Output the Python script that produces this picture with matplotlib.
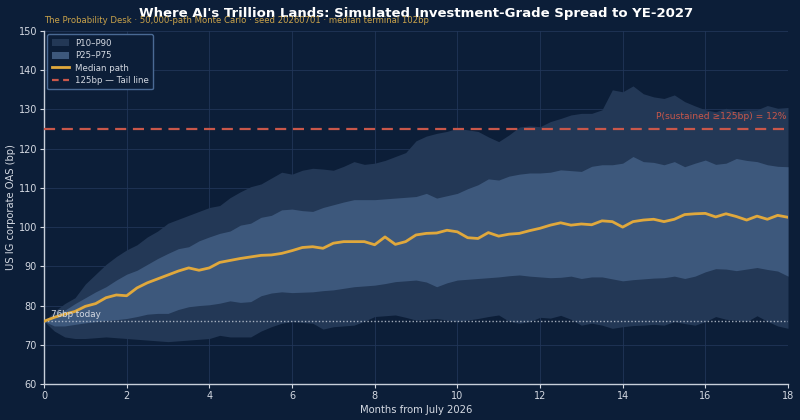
import matplotlib
matplotlib.use("Agg")
import matplotlib.pyplot as plt
import numpy as np
from matplotlib.patches import Patch
from matplotlib.lines import Line2D

plt.rcParams["font.family"] = ["DejaVu Sans"]

# ---------------- data ----------------
months = np.arange(0, 18.01, 0.25)

p90 = [76, 78.5, 80.5, 82, 85.5, 88, 90.5, 92.5, 94.2, 95.5, 97.5, 99, 101, 102, 103, 104, 105, 105.5, 107.5, 109,
       110.3, 111, 112.5, 114, 113.5,
       114.5, 115, 114.8, 114.5, 115.5, 116.7, 116, 116.3, 117, 118, 119, 122, 123.2, 123.9, 124.4, 125.2, 124.8,
       124.4, 123, 121.8, 123.5, 125.5, 125.8, 125.6,
       126.9, 127.7, 128.6, 129, 129, 129.9, 135, 134.5, 136, 134, 133.2, 132.8, 133.7, 132, 130.9, 129.9, 129.4,
       130.3, 129.4, 129.9, 129.9, 131, 130.3, 130.5]

p75 = [76, 77.5, 78.8, 80.5, 82, 83.5, 84.8, 86.5, 88, 89, 90.5, 92, 93.3, 94.5, 95, 96.5, 97.5, 98.4, 99, 100.5,
       101, 102.5, 103, 104.4, 104.6,
       104.2, 104, 105, 105.7, 106.4, 107, 107, 107, 107.2, 107.4, 107.6, 107.8, 108.6, 107.4, 108, 108.6, 109.8,
       110.8, 112.3, 112, 113, 113.5, 113.8, 113.8,
       114, 114.6, 114.4, 114.2, 115.5, 115.9, 115.9, 116.3, 118, 116.7, 116.5, 115.9, 116.7, 115.4, 116.3, 117.1,
       116, 116.3, 117.5, 117, 116.7, 115.9, 115.5, 115.4]

median = [76, 77, 77.8, 78.5, 79.8, 80.5, 82, 82.7, 82.5, 84.5, 85.8, 86.8, 87.8, 88.8, 89.6, 89, 89.6, 91, 91.5, 92,
          92.4, 92.8, 92.9, 93.3, 94,
          94.8, 95, 94.6, 95.9, 96.3, 96.3, 96.3, 95.5, 97.5, 95.6, 96.3, 98, 98.4, 98.5, 99.2, 98.8, 97.3, 97.1,
          98.6, 97.7, 98.2, 98.4, 99.1, 99.7,
          100.5, 101.1, 100.5, 100.8, 100.6, 101.6, 101.4, 100, 101.4, 101.8, 102, 101.4, 102, 103.2, 103.4, 103.5,
          102.6, 103.4, 102.7, 101.8, 102.8, 102, 103, 102.5]

p25 = [76, 74.8, 74.8, 75.2, 75.6, 75.9, 76.2, 76.4, 76.7, 77.2, 77.8, 78, 78, 79, 79.7, 80, 80.2, 80.6, 81.2, 80.8,
       81, 82.5, 83.2, 83.5, 83.3,
       83.4, 83.5, 83.8, 84, 84.4, 84.8, 85, 85.2, 85.6, 86.1, 86.3, 86.5, 86, 84.8, 85.8, 86.5, 86.7, 86.9, 87.1,
       87.3, 87.6, 87.8, 87.5, 87.3,
       87.1, 87.2, 87.5, 86.9, 87.3, 87.3, 86.8, 86.3, 86.6, 86.8, 87, 87.1, 87.5, 86.9, 87.5, 88.6, 89.4, 89.3,
       88.9, 89.3, 89.7, 89.2, 88.8, 87.5]

p10 = [76, 73.5, 72, 71.6, 71.6, 71.8, 72, 71.8, 71.6, 71.4, 71.2, 71, 70.8, 71, 71.2, 71.4, 71.6, 72.4, 72, 72,
       72, 73.5, 74.6, 75.5, 75.9,
       75.7, 75.5, 74, 74.6, 74.8, 75, 76, 77.2, 77.4, 77.6, 77, 76.3, 76.5, 76.7, 76.3, 75.9, 76.3, 76.7, 77.2,
       77.6, 76, 75.5, 75.9, 77,
       76.8, 77.5, 76.5, 75, 75.5, 75, 74.2, 74.6, 74.9, 75, 75.2, 75, 75.9, 75.4, 75, 75.9, 77.2, 76.5, 76.3,
       75.9, 77.4, 76, 74.8, 74.2]

today_bp = 76
tail_bp = 125
title = "Where AI's Trillion Lands: Simulated Investment-Grade Spread to YE-2027"
subtitle = ("The Probability Desk \u00b7 50,000-path Monte Carlo \u00b7 seed 20260701 \u00b7 "
            "median terminal 102bp")
tail_note = "P(sustained \u2265125bp) = 12%"

# ---------------- style ----------------
BG = "#0c1e38"
OUTER = "#233856"
INNER = "#3d587c"
GOLD = "#e0a83c"
RED = "#c9574a"
TXT = "#d4d9e2"

fig = plt.figure(figsize=(8, 4.2), dpi=100, facecolor=BG)
ax = fig.add_axes([0.055, 0.0857, 0.93, 0.8405])
ax.set_facecolor(BG)

ax.grid(True, color="#22375a", linewidth=0.7, alpha=0.8, zorder=0)
ax.set_axisbelow(True)

ax.fill_between(months, p10, p90, color=OUTER, linewidth=0, zorder=1)
ax.fill_between(months, p25, p75, color=INNER, linewidth=0, zorder=2)
ax.plot(months, median, color=GOLD, linewidth=2, zorder=4)
ax.axhline(tail_bp, color=RED, linestyle=(0, (5, 3)), linewidth=1.6, zorder=3)
ax.axhline(today_bp, color="#c8cfda", linestyle=(0, (1, 1.5)), linewidth=1, alpha=0.8, zorder=3)

ax.text(0.17, today_bp + 1.2, "76bp today", color=TXT, fontsize=6.3, zorder=5)
ax.text(17.97, tail_bp + 3.3, tail_note, color=RED, fontsize=6.6, ha="right", va="center", zorder=5)

ax.set_xlim(0, 18)
ax.set_ylim(60, 150)
ax.set_xticks(np.arange(0, 19, 2))
ax.set_yticks(np.arange(60, 151, 10))
ax.tick_params(colors=TXT, labelsize=7, length=3, width=0.8, pad=2)
for s in ["top", "right"]:
    ax.spines[s].set_visible(False)
for s in ["left", "bottom"]:
    ax.spines[s].set_color("#c8cfda")
    ax.spines[s].set_linewidth(1)

ax.set_xlabel("Months from July 2026", color=TXT, fontsize=7.2, labelpad=3)
ax.set_ylabel("US IG corporate OAS (bp)", color=TXT, fontsize=7.2)
ax.yaxis.set_label_coords(-0.038, 0.5)

handles = [Patch(facecolor=OUTER, edgecolor="none", label="P10\u2013P90"),
           Patch(facecolor=INNER, edgecolor="none", label="P25\u2013P75"),
           Line2D([0], [0], color=GOLD, lw=2, label="Median path"),
           Line2D([0], [0], color=RED, lw=1.6, linestyle=(0, (3, 2)), label="125bp \u2014 Tail line")]
leg = ax.legend(handles=handles, loc="upper left", fontsize=6.2, frameon=True, facecolor=BG,
                edgecolor="#4a6a94", labelcolor=TXT, borderpad=0.5, handlelength=2.0,
                handleheight=0.9, labelspacing=0.4, borderaxespad=0.4, handletextpad=0.7)
leg.get_frame().set_alpha(1)
leg.get_frame().set_linewidth(1)

fig.text(0.52, 0.968, title, color="white", fontsize=9.5, fontweight="bold", ha="center", va="center")
fig.text(0.055, 0.951, subtitle, color="#c9a24a", fontsize=6.1, ha="left", va="center")

fig.savefig("out.png", dpi=100, facecolor=BG)
